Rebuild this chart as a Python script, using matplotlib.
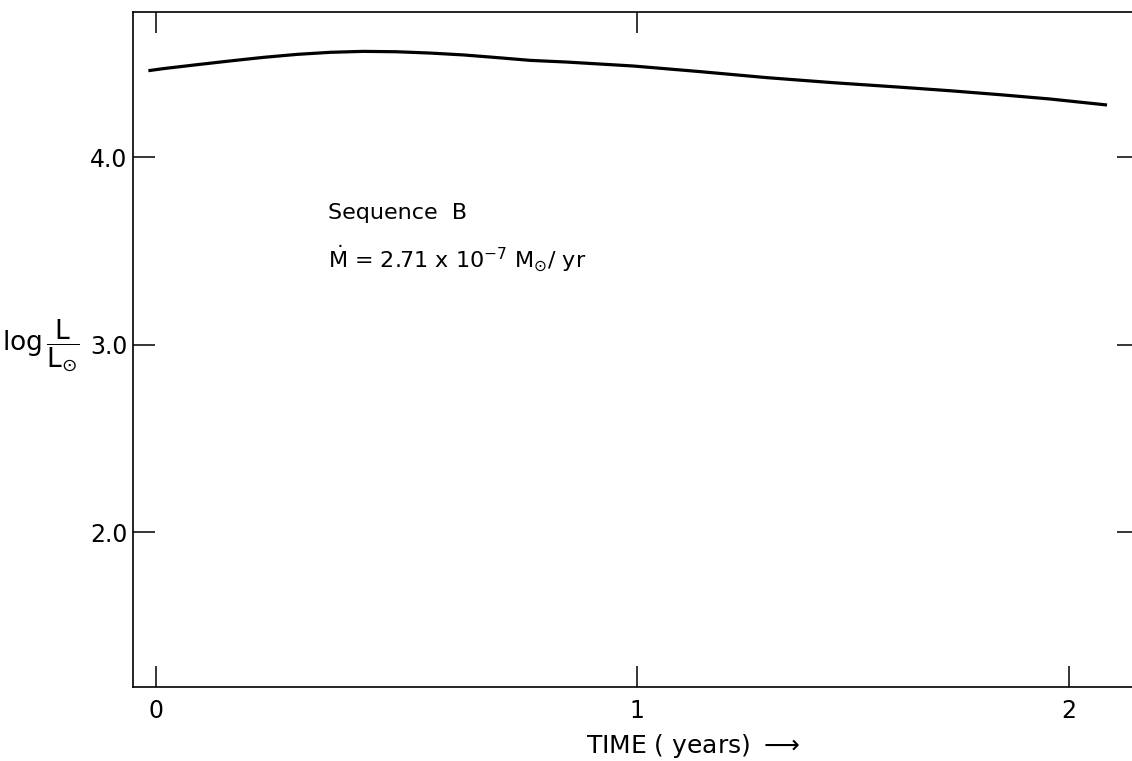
import numpy as np
import matplotlib
matplotlib.use("Agg")
import matplotlib.pyplot as plt
from matplotlib.ticker import FixedLocator, FixedFormatter

plt.rcParams['font.family'] = ['DejaVu Sans']
plt.rcParams['mathtext.fontset'] = 'dejavusans'

# Data (time in years, log L/Lsun)
time_yr = [-0.016, 0.015, 0.085, 0.154, 0.223, 0.293, 0.362, 0.431, 0.500,
           0.570, 0.639, 0.708, 0.778, 0.854, 0.992, 1.146, 1.300, 1.454,
           1.609, 1.725, 1.840, 1.956, 2.088]
log_L = [4.462, 4.473, 4.494, 4.514, 4.533, 4.549, 4.560, 4.565, 4.563,
         4.556, 4.546, 4.532, 4.517, 4.508, 4.487, 4.457, 4.425, 4.398,
         4.374, 4.355, 4.334, 4.311, 4.279]

x_ticks = [0, 1, 2]
x_ticklabels = ['0', '1', '2']
x_top_ticks = [0, 1]
y_ticks = [2.0, 3.0, 4.0]
y_ticklabels = ['2.0', '3.0', '4.0']

# The hand-drawn time axis is not uniform: unit 0->1 is wider than 1->2
S1, S2 = 481.0, 432.0


def fwd(x):
    x = np.asarray(x, dtype=float)
    return np.where(x <= 1, S1 * x, S1 + S2 * (x - 1))


def inv(u):
    u = np.asarray(u, dtype=float)
    return np.where(u <= S1, u / S1, 1 + (u - S1) / S2)


W, H = 1132, 761
fig = plt.figure(figsize=(W / 100, H / 100), dpi=100)
ax = fig.add_axes([133 / W, 74 / H, (1139 - 133) / W, (687 - 12) / H])
ax.set_xscale('function', functions=(fwd, inv))

ax.plot(time_yr, log_L, color='black', lw=2.3, solid_capstyle='butt',
        solid_joinstyle='round')

ax.set_xlim(-0.048, 2.162)
ax.set_ylim(1.175, 4.775)

for s in ax.spines.values():
    s.set_linewidth(1.2)

ax.xaxis.remove_overlapping_locs = False
ax.xaxis.set_major_locator(FixedLocator(x_ticks))
ax.xaxis.set_major_formatter(FixedFormatter(x_ticklabels))
ax.xaxis.set_minor_locator(FixedLocator(x_top_ticks))
ax.yaxis.set_major_locator(FixedLocator(y_ticks))
ax.yaxis.set_major_formatter(FixedFormatter(y_ticklabels))
ax.yaxis.set_minor_locator(FixedLocator([]))

ax.tick_params(axis='x', which='major', direction='in', length=15, width=1.1,
               bottom=True, top=False, labelsize=17, pad=9)
ax.tick_params(axis='x', which='minor', direction='in', length=15, width=1.1,
               bottom=False, top=True, labelbottom=False, labeltop=False)
ax.tick_params(axis='y', which='major', direction='in', length=16, width=1.1,
               left=True, right=True, labelsize=17, pad=4)

ax.text(0.194, 0.693, 'Sequence  B', transform=ax.transAxes, fontsize=16,
        ha='left', va='baseline')
ax.text(0.194, 0.621, r'$\dot{\mathrm{M}}$ = 2.71 x 10$^{-7}$ M$_{\odot}$/ yr',
        transform=ax.transAxes, fontsize=16, ha='left', va='baseline')

ax.text(0.5565, -0.098, r'TIME ( years) $\longrightarrow$', transform=ax.transAxes,
        fontsize=18, ha='center', va='baseline')

ax.text(-0.053, 0.505, r'$\log\dfrac{\mathrm{L}}{\mathrm{L}_{\odot}}$',
        transform=ax.transAxes, fontsize=19, ha='right', va='center')

fig.savefig('out.png', dpi=100)
